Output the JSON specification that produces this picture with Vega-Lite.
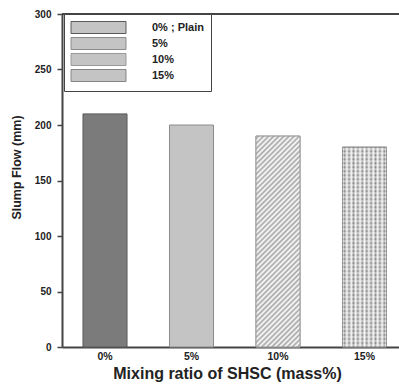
{
  "$schema": "https://vega.github.io/schema/vega-lite/v6.json",
  "autosize": {"type": "none"},
  "padding": {"left": 62, "top": 14, "right": 0, "bottom": 40},
  "width": 337,
  "height": 333,
  "config": {
    "view": {"stroke": null},
    "font": "Liberation Sans",
    "axis": {"labelFont": "Liberation Sans", "titleFont": "Liberation Sans", "labelFontWeight": "bold", "titleFontWeight": "bold", "labelColor": "#222", "titleColor": "#222", "domainColor": "#444", "domainWidth": 2, "tickColor": "#444", "tickWidth": 1.5, "grid": false},
    "legend": {"labelFont": "Liberation Sans"}
  },
  "data": {"values": [
    {"ratio": "0%", "label": "0% ; Plain", "flow": 210},
    {"ratio": "5%", "label": "5%", "flow": 200},
    {"ratio": "10%", "label": "10%", "flow": 190},
    {"ratio": "15%", "label": "15%", "flow": 180}
  ]},
  "layer": [
    {
      "mark": {"type": "bar", "strokeWidth": 1},
      "encoding": {
        "x": {"field": "ratio", "type": "nominal", "sort": null,
          "scale": {"paddingInner": 0.491, "paddingOuter": 0.1935, "align": 0.627},
          "axis": {"title": "Mixing ratio of SHSC (mass%)", "labelAngle": 0, "ticks": false, "labelPadding": 4, "labelFontSize": 10.5, "titleFontSize": 16, "titlePadding": 4, "titleX": 165}},
        "y": {"field": "flow", "type": "quantitative",
          "scale": {"domain": [0, 300], "nice": false},
          "axis": {"title": "Slump Flow (mm)", "values": [0, 50, 100, 150, 200, 250, 300], "tickSize": 5, "labelPadding": 6, "labelFontSize": 10, "titleFontSize": 12.5, "titlePadding": 11, "titleY": 153}},
        "fill": {"condition": {"test": "datum.ratio === '0%'", "value": "#7b7b7b"}, "value": "#c4c4c4"},
        "stroke": {"field": "label", "type": "nominal", "sort": null,
          "scale": {"domain": ["0% ; Plain", "5%", "10%", "15%"], "range": ["#5a5a5a", "#8c8c8c", "#9a9a9a", "#858585"]},
          "legend": {
            "title": null, "orient": "none", "legendX": 2, "legendY": 0,
            "symbolType": "M-4.583,-1H4.583V1H-4.583Z", "symbolSize": 144,
            "symbolOffset": 21, "labelOffset": 47, "symbolStrokeWidth": 1,
            "labelFont": "Liberation Sans", "labelFontSize": 11, "labelFontWeight": "bold", "labelColor": "#222",
            "rowPadding": -1, "padding": 7, "strokeColor": "#444", "fillColor": "#ffffff",
            "encode": {
              "legend": {"update": {"strokeWidth": {"value": 1.5}}},
              "symbols": {"update": {"fill": {"signal": "datum.value === '0% ; Plain' ? '#7b7b7b' : datum.value === '10%' ? '#e0e0e0' : datum.value === '15%' ? '#a8a8a8' : '#c4c4c4'"}}}
            }
          }
        }
      }
    },
    {
      "transform": [{"filter": "datum.ratio === '10%'"}],
      "mark": {"type": "bar", "stroke": "#9a9a9a", "strokeWidth": 1, "fill": {"gradient": "linear", "x1": 0, "y1": 0, "x2": 0.2415, "y2": 1.158, "stops": [
              {"offset":0,"color":"#fff"},{"offset":0.01,"color":"#a5a5a5"},{"offset":0.02,"color":"#fff"},{"offset":0.03,"color":"#a5a5a5"},{"offset":0.04,"color":"#fff"},{"offset":0.05,"color":"#a5a5a5"},{"offset":0.06,"color":"#fff"},{"offset":0.07,"color":"#a5a5a5"},{"offset":0.08,"color":"#fff"},{"offset":0.09,"color":"#a5a5a5"},
              {"offset":0.1,"color":"#fff"},{"offset":0.11,"color":"#a5a5a5"},{"offset":0.12,"color":"#fff"},{"offset":0.13,"color":"#a5a5a5"},{"offset":0.14,"color":"#fff"},{"offset":0.15,"color":"#a5a5a5"},{"offset":0.16,"color":"#fff"},{"offset":0.17,"color":"#a5a5a5"},{"offset":0.18,"color":"#fff"},{"offset":0.19,"color":"#a5a5a5"},
              {"offset":0.2,"color":"#fff"},{"offset":0.21,"color":"#a5a5a5"},{"offset":0.22,"color":"#fff"},{"offset":0.23,"color":"#a5a5a5"},{"offset":0.24,"color":"#fff"},{"offset":0.25,"color":"#a5a5a5"},{"offset":0.26,"color":"#fff"},{"offset":0.27,"color":"#a5a5a5"},{"offset":0.28,"color":"#fff"},{"offset":0.29,"color":"#a5a5a5"},
              {"offset":0.3,"color":"#fff"},{"offset":0.31,"color":"#a5a5a5"},{"offset":0.32,"color":"#fff"},{"offset":0.33,"color":"#a5a5a5"},{"offset":0.34,"color":"#fff"},{"offset":0.35,"color":"#a5a5a5"},{"offset":0.36,"color":"#fff"},{"offset":0.37,"color":"#a5a5a5"},{"offset":0.38,"color":"#fff"},{"offset":0.39,"color":"#a5a5a5"},
              {"offset":0.4,"color":"#fff"},{"offset":0.41,"color":"#a5a5a5"},{"offset":0.42,"color":"#fff"},{"offset":0.43,"color":"#a5a5a5"},{"offset":0.44,"color":"#fff"},{"offset":0.45,"color":"#a5a5a5"},{"offset":0.46,"color":"#fff"},{"offset":0.47,"color":"#a5a5a5"},{"offset":0.48,"color":"#fff"},{"offset":0.49,"color":"#a5a5a5"},
              {"offset":0.5,"color":"#fff"},{"offset":0.51,"color":"#a5a5a5"},{"offset":0.52,"color":"#fff"},{"offset":0.53,"color":"#a5a5a5"},{"offset":0.54,"color":"#fff"},{"offset":0.55,"color":"#a5a5a5"},{"offset":0.56,"color":"#fff"},{"offset":0.57,"color":"#a5a5a5"},{"offset":0.58,"color":"#fff"},{"offset":0.59,"color":"#a5a5a5"},
              {"offset":0.6,"color":"#fff"},{"offset":0.61,"color":"#a5a5a5"},{"offset":0.62,"color":"#fff"},{"offset":0.63,"color":"#a5a5a5"},{"offset":0.64,"color":"#fff"},{"offset":0.65,"color":"#a5a5a5"},{"offset":0.66,"color":"#fff"},{"offset":0.67,"color":"#a5a5a5"},{"offset":0.68,"color":"#fff"},{"offset":0.69,"color":"#a5a5a5"},
              {"offset":0.7,"color":"#fff"},{"offset":0.71,"color":"#a5a5a5"},{"offset":0.72,"color":"#fff"},{"offset":0.73,"color":"#a5a5a5"},{"offset":0.74,"color":"#fff"},{"offset":0.75,"color":"#a5a5a5"},{"offset":0.76,"color":"#fff"},{"offset":0.77,"color":"#a5a5a5"},{"offset":0.78,"color":"#fff"},{"offset":0.79,"color":"#a5a5a5"},
              {"offset":0.8,"color":"#fff"},{"offset":0.81,"color":"#a5a5a5"},{"offset":0.82,"color":"#fff"},{"offset":0.83,"color":"#a5a5a5"},{"offset":0.84,"color":"#fff"},{"offset":0.85,"color":"#a5a5a5"},{"offset":0.86,"color":"#fff"},{"offset":0.87,"color":"#a5a5a5"},{"offset":0.88,"color":"#fff"},{"offset":0.89,"color":"#a5a5a5"},
              {"offset":0.9,"color":"#fff"},{"offset":0.91,"color":"#a5a5a5"},{"offset":0.92,"color":"#fff"},{"offset":0.93,"color":"#a5a5a5"},{"offset":0.94,"color":"#fff"},{"offset":0.95,"color":"#a5a5a5"},{"offset":0.96,"color":"#fff"},{"offset":0.97,"color":"#a5a5a5"},{"offset":0.98,"color":"#fff"},{"offset":0.99,"color":"#a5a5a5"},
              {"offset":1,"color":"#fff"}
      ]}},
      "encoding": {
        "x": {"field": "ratio", "type": "nominal", "sort": null},
        "y": {"field": "flow", "type": "quantitative"}
      }
    },
    {
      "transform": [{"filter": "datum.ratio === '15%'"}],
      "mark": {"type": "bar", "stroke": "#858585", "strokeWidth": 1, "fill": {"gradient": "linear", "x1": 0, "y1": 0, "x2": 1, "y2": 0, "stops": [
              {"offset":0,"color":"#f2f2f2"},{"offset":0.05,"color":"#7d7d7d"},{"offset":0.1,"color":"#f2f2f2"},{"offset":0.15,"color":"#7d7d7d"},{"offset":0.2,"color":"#f2f2f2"},{"offset":0.25,"color":"#7d7d7d"},{"offset":0.3,"color":"#f2f2f2"},{"offset":0.35,"color":"#7d7d7d"},{"offset":0.4,"color":"#f2f2f2"},{"offset":0.45,"color":"#7d7d7d"},
              {"offset":0.5,"color":"#f2f2f2"},{"offset":0.55,"color":"#7d7d7d"},{"offset":0.6,"color":"#f2f2f2"},{"offset":0.65,"color":"#7d7d7d"},{"offset":0.7,"color":"#f2f2f2"},{"offset":0.75,"color":"#7d7d7d"},{"offset":0.8,"color":"#f2f2f2"},{"offset":0.85,"color":"#7d7d7d"},{"offset":0.9,"color":"#f2f2f2"},{"offset":0.95,"color":"#7d7d7d"},
              {"offset":1,"color":"#f2f2f2"}
      ]}},
      "encoding": {
        "x": {"field": "ratio", "type": "nominal", "sort": null},
        "y": {"field": "flow", "type": "quantitative"}
      }
    },
    {
      "transform": [{"filter": "datum.ratio === '15%'"}],
      "mark": {"type": "bar", "strokeWidth": 0, "fill": {"gradient": "linear", "x1": 0, "y1": 0, "x2": 0, "y2": 1, "stops": [
        {"offset":0,"color":"rgba(255,255,255,0)"},{"offset":0.01,"color":"rgba(255,255,255,0.6)"},{"offset":0.02,"color":"rgba(255,255,255,0)"},{"offset":0.03,"color":"rgba(255,255,255,0.6)"},{"offset":0.04,"color":"rgba(255,255,255,0)"},{"offset":0.05,"color":"rgba(255,255,255,0.6)"},{"offset":0.06,"color":"rgba(255,255,255,0)"},{"offset":0.07,"color":"rgba(255,255,255,0.6)"},{"offset":0.08,"color":"rgba(255,255,255,0)"},{"offset":0.09,"color":"rgba(255,255,255,0.6)"},
        {"offset":0.1,"color":"rgba(255,255,255,0)"},{"offset":0.11,"color":"rgba(255,255,255,0.6)"},{"offset":0.12,"color":"rgba(255,255,255,0)"},{"offset":0.13,"color":"rgba(255,255,255,0.6)"},{"offset":0.14,"color":"rgba(255,255,255,0)"},{"offset":0.15,"color":"rgba(255,255,255,0.6)"},{"offset":0.16,"color":"rgba(255,255,255,0)"},{"offset":0.17,"color":"rgba(255,255,255,0.6)"},{"offset":0.18,"color":"rgba(255,255,255,0)"},{"offset":0.19,"color":"rgba(255,255,255,0.6)"},
        {"offset":0.2,"color":"rgba(255,255,255,0)"},{"offset":0.21,"color":"rgba(255,255,255,0.6)"},{"offset":0.22,"color":"rgba(255,255,255,0)"},{"offset":0.23,"color":"rgba(255,255,255,0.6)"},{"offset":0.24,"color":"rgba(255,255,255,0)"},{"offset":0.25,"color":"rgba(255,255,255,0.6)"},{"offset":0.26,"color":"rgba(255,255,255,0)"},{"offset":0.27,"color":"rgba(255,255,255,0.6)"},{"offset":0.28,"color":"rgba(255,255,255,0)"},{"offset":0.29,"color":"rgba(255,255,255,0.6)"},
        {"offset":0.3,"color":"rgba(255,255,255,0)"},{"offset":0.31,"color":"rgba(255,255,255,0.6)"},{"offset":0.32,"color":"rgba(255,255,255,0)"},{"offset":0.33,"color":"rgba(255,255,255,0.6)"},{"offset":0.34,"color":"rgba(255,255,255,0)"},{"offset":0.35,"color":"rgba(255,255,255,0.6)"},{"offset":0.36,"color":"rgba(255,255,255,0)"},{"offset":0.37,"color":"rgba(255,255,255,0.6)"},{"offset":0.38,"color":"rgba(255,255,255,0)"},{"offset":0.39,"color":"rgba(255,255,255,0.6)"},
        {"offset":0.4,"color":"rgba(255,255,255,0)"},{"offset":0.41,"color":"rgba(255,255,255,0.6)"},{"offset":0.42,"color":"rgba(255,255,255,0)"},{"offset":0.43,"color":"rgba(255,255,255,0.6)"},{"offset":0.44,"color":"rgba(255,255,255,0)"},{"offset":0.45,"color":"rgba(255,255,255,0.6)"},{"offset":0.46,"color":"rgba(255,255,255,0)"},{"offset":0.47,"color":"rgba(255,255,255,0.6)"},{"offset":0.48,"color":"rgba(255,255,255,0)"},{"offset":0.49,"color":"rgba(255,255,255,0.6)"},
        {"offset":0.5,"color":"rgba(255,255,255,0)"},{"offset":0.51,"color":"rgba(255,255,255,0.6)"},{"offset":0.52,"color":"rgba(255,255,255,0)"},{"offset":0.53,"color":"rgba(255,255,255,0.6)"},{"offset":0.54,"color":"rgba(255,255,255,0)"},{"offset":0.55,"color":"rgba(255,255,255,0.6)"},{"offset":0.56,"color":"rgba(255,255,255,0)"},{"offset":0.57,"color":"rgba(255,255,255,0.6)"},{"offset":0.58,"color":"rgba(255,255,255,0)"},{"offset":0.59,"color":"rgba(255,255,255,0.6)"},
        {"offset":0.6,"color":"rgba(255,255,255,0)"},{"offset":0.61,"color":"rgba(255,255,255,0.6)"},{"offset":0.62,"color":"rgba(255,255,255,0)"},{"offset":0.63,"color":"rgba(255,255,255,0.6)"},{"offset":0.64,"color":"rgba(255,255,255,0)"},{"offset":0.65,"color":"rgba(255,255,255,0.6)"},{"offset":0.66,"color":"rgba(255,255,255,0)"},{"offset":0.67,"color":"rgba(255,255,255,0.6)"},{"offset":0.68,"color":"rgba(255,255,255,0)"},{"offset":0.69,"color":"rgba(255,255,255,0.6)"},
        {"offset":0.7,"color":"rgba(255,255,255,0)"},{"offset":0.71,"color":"rgba(255,255,255,0.6)"},{"offset":0.72,"color":"rgba(255,255,255,0)"},{"offset":0.73,"color":"rgba(255,255,255,0.6)"},{"offset":0.74,"color":"rgba(255,255,255,0)"},{"offset":0.75,"color":"rgba(255,255,255,0.6)"},{"offset":0.76,"color":"rgba(255,255,255,0)"},{"offset":0.77,"color":"rgba(255,255,255,0.6)"},{"offset":0.78,"color":"rgba(255,255,255,0)"},{"offset":0.79,"color":"rgba(255,255,255,0.6)"},
        {"offset":0.8,"color":"rgba(255,255,255,0)"},{"offset":0.81,"color":"rgba(255,255,255,0.6)"},{"offset":0.82,"color":"rgba(255,255,255,0)"},{"offset":0.83,"color":"rgba(255,255,255,0.6)"},{"offset":0.84,"color":"rgba(255,255,255,0)"},{"offset":0.85,"color":"rgba(255,255,255,0.6)"},{"offset":0.86,"color":"rgba(255,255,255,0)"},{"offset":0.87,"color":"rgba(255,255,255,0.6)"},{"offset":0.88,"color":"rgba(255,255,255,0)"},{"offset":0.89,"color":"rgba(255,255,255,0.6)"},
        {"offset":0.9,"color":"rgba(255,255,255,0)"},{"offset":0.91,"color":"rgba(255,255,255,0.6)"},{"offset":0.92,"color":"rgba(255,255,255,0)"},{"offset":0.93,"color":"rgba(255,255,255,0.6)"},{"offset":0.94,"color":"rgba(255,255,255,0)"},{"offset":0.95,"color":"rgba(255,255,255,0.6)"},{"offset":0.96,"color":"rgba(255,255,255,0)"},{"offset":0.97,"color":"rgba(255,255,255,0.6)"},{"offset":0.98,"color":"rgba(255,255,255,0)"},{"offset":0.99,"color":"rgba(255,255,255,0.6)"},
        {"offset":1,"color":"rgba(255,255,255,0)"}
      ]}},
      "encoding": {
        "x": {"field": "ratio", "type": "nominal", "sort": null},
        "y": {"field": "flow", "type": "quantitative"}
      }
    },
    {
      "data": {"values": [{}]},
      "mark": {"type": "rule", "color": "#444", "strokeWidth": 2},
      "encoding": {"y": {"datum": 300}}
    }
  ]
}
